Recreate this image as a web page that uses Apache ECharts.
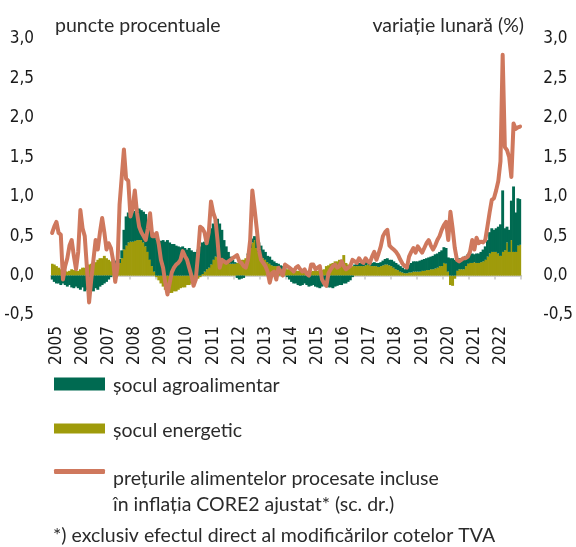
<!DOCTYPE html>
<html><head><meta charset="utf-8">
<script src="https://cdn.jsdelivr.net/npm/echarts@6/dist/echarts.min.js"></script>
<style>html,body{margin:0;padding:0;background:#fff}#c{width:576px;height:547px}</style>
</head><body><div id="c"></div>
<script>
const years = [2005,2006,2007,2008,2009,2010,2011,2012,2013,2014,2015,2016,2017,2018,2019,2020,2021,2022];
const yTicks = [-0.5, 0, 0.5, 1, 1.5, 2, 2.5, 3];

// șocul agroalimentar (pp), monthly Jan 2005 - Dec 2022
const agro = [
 -0.05,-0.08,-0.1,-0.1,-0.12,-0.1,-0.12,-0.14,-0.12,-0.15,-0.16,-0.14,
 -0.16,-0.18,-0.15,-0.2,-0.18,-0.22,-0.18,-0.2,-0.16,-0.18,-0.14,-0.12,
 -0.1,-0.08,-0.05,-0.02,0.02,0.04,0.04,0.05,0.1,0.25,0.37,0.38,
 0.36,0.37,0.38,0.4,0.4,0.38,0.39,0.41,0.4,0.4,0.43,0.45,
 0.45,0.45,0.44,0.45,0.43,0.45,0.42,0.4,0.4,0.38,0.37,0.36,
 0.37,0.35,0.33,0.35,0.32,0.3,0.3,0.33,0.37,0.4,0.38,0.4,
 0.4,0.46,0.46,0.46,0.48,0.44,0.38,0.25,0.19,0.14,0.09,0.05,
 0.02,-0.03,-0.05,-0.04,-0.03,0.0,0.02,0.05,0.05,0.05,0.1,0.12,
 0.13,0.11,0.1,0.08,0.09,0.07,0.06,0.04,0.05,0.04,0.04,0.02,
 -0.02,-0.05,-0.08,-0.1,-0.1,-0.12,-0.13,-0.12,-0.1,-0.12,-0.14,-0.13,
 -0.12,-0.14,-0.15,-0.16,-0.14,-0.12,-0.14,-0.15,-0.15,-0.16,-0.14,-0.13,
 -0.12,-0.12,-0.1,-0.1,-0.08,-0.06,-0.02,0.02,0.03,0.04,0.04,0.05,
 0.04,0.03,0.03,0.04,0.05,0.04,0.05,0.05,0.06,0.07,0.08,0.07,
 0.08,0.08,0.08,0.07,0.07,0.06,0.05,0.07,0.1,0.12,0.13,0.13,
 0.13,0.14,0.14,0.15,0.15,0.16,0.16,0.17,0.18,0.18,0.18,0.2,
 0.2,0.2,0.18,0.22,0.22,0.2,0.16,0.14,0.14,0.14,0.13,0.12,
 0.11,0.12,0.1,0.12,0.12,0.13,0.15,0.17,0.21,0.27,0.3,0.28,
 0.3,0.34,0.4,0.78,0.28,0.2,0.28,0.5,0.83,0.5,0.6,0.58
];

// șocul energetic (pp)
const energy = [
 0.15,0.14,0.12,0.1,0.08,0.08,0.06,0.05,0.06,0.08,0.07,0.06,
 0.06,0.08,0.1,0.1,0.12,0.14,0.15,0.15,0.17,0.2,0.22,0.22,
 0.25,0.22,0.2,0.18,0.18,0.15,0.15,0.16,0.22,0.33,0.38,0.42,
 0.43,0.43,0.44,0.45,0.45,0.45,0.42,0.37,0.3,0.2,0.12,0.05,
 -0.02,-0.06,-0.1,-0.14,-0.18,-0.2,-0.22,-0.22,-0.2,-0.2,-0.18,-0.16,
 -0.15,-0.15,-0.12,-0.12,-0.1,-0.08,-0.06,-0.04,-0.02,0.02,0.05,0.08,
 0.1,0.14,0.2,0.24,0.24,0.22,0.2,0.2,0.18,0.16,0.15,0.15,
 0.15,0.16,0.18,0.2,0.2,0.22,0.26,0.35,0.42,0.45,0.35,0.3,
 0.25,0.22,0.2,0.17,0.15,0.13,0.12,0.12,0.1,0.09,0.08,0.08,
 0.08,0.08,0.07,0.07,0.06,0.06,0.06,0.05,0.06,0.06,0.05,0.05,
 0.06,0.06,0.06,0.07,0.07,0.08,0.12,0.13,0.15,0.16,0.18,0.18,
 0.2,0.2,0.26,0.16,0.14,0.12,0.12,0.12,0.12,0.12,0.12,0.12,
 0.13,0.14,0.13,0.12,0.12,0.12,0.11,0.12,0.13,0.14,0.14,0.13,
 0.12,0.1,0.08,0.07,0.05,0.04,0.03,0.03,0.04,0.04,0.05,0.05,
 0.05,0.05,0.06,0.06,0.07,0.07,0.08,0.08,0.09,0.1,0.12,0.12,
 0.16,0.15,0.05,-0.12,-0.13,-0.04,0.06,0.08,0.08,0.08,0.12,0.15,
 0.16,0.16,0.17,0.16,0.16,0.17,0.18,0.2,0.24,0.28,0.3,0.3,
 0.3,0.28,0.25,0.3,0.32,0.42,0.3,0.45,0.3,0.3,0.38,0.39
];

// prețurile alimentelor procesate, variație lunară (%), sc. dr.
const processed = [
 0.54,0.62,0.68,0.54,0.52,-0.05,0.12,0.22,0.38,0.45,0.25,0.08,
 0.3,0.83,0.6,0.5,0.1,-0.34,-0.05,0.2,0.45,0.33,0.55,0.73,
 0.55,0.33,0.41,0.35,0.2,-0.08,0.1,0.9,1.25,1.6,1.23,1.2,
 0.75,0.85,1.08,0.8,0.62,0.55,0.5,0.45,0.6,0.79,0.5,0.5,
 0.54,0.4,0.2,0.1,-0.09,-0.24,-0.1,0.04,0.1,0.14,0.16,0.2,
 0.31,0.25,0.2,0.1,0.0,-0.13,-0.05,0.25,0.62,0.6,0.55,0.41,
 0.55,0.94,0.8,0.72,0.45,0.1,0.2,0.18,0.16,0.18,0.2,0.22,
 0.24,0.26,0.18,0.16,0.12,0.1,0.2,0.45,1.08,0.85,0.6,0.33,
 0.2,0.16,0.12,0.05,-0.09,0.03,0.05,-0.05,0.1,0.05,0.0,0.14,
 0.12,0.1,0.08,0.05,0.1,0.12,0.08,0.05,0.08,0.02,0.0,0.14,
 0.14,0.08,0.1,0.12,-0.05,-0.1,-0.13,0.03,0.08,0.12,0.14,0.1,
 0.12,0.18,0.12,0.08,0.1,0.12,0.2,0.18,0.16,0.22,0.18,0.16,
 0.22,0.18,0.16,0.24,0.3,0.2,0.28,0.37,0.5,0.55,0.58,0.38,
 0.35,0.33,0.3,0.26,0.2,0.15,0.12,0.1,0.24,0.3,0.35,0.29,
 0.37,0.33,0.29,0.35,0.41,0.45,0.38,0.33,0.38,0.45,0.5,0.58,
 0.64,0.68,0.45,0.81,0.6,0.35,0.2,0.18,0.2,0.22,0.22,0.24,
 0.3,0.45,0.33,0.48,0.41,0.43,0.42,0.45,0.62,0.8,0.96,0.98,
 1.08,1.2,1.45,2.8,1.63,1.59,1.5,1.25,1.93,1.86,1.88,1.89
];

const months = [];
years.forEach(y => { for (let m = 1; m <= 12; m++) months.push(y + '-' + (m < 10 ? '0' : '') + m); });

const GREEN = '#006a51', OLIVE = '#9f9b0b', ORANGE = '#cf785d';
const condensed = '"Liberation Sans Narrow","DejaVu Sans Condensed","Roboto Condensed",sans-serif';
const textFont = 'Lato,"Open Sans",sans-serif';
const TXT = '#2b2b2b';
const FS = 19.5;
const fmt = v => v.toFixed(1).replace('.', ',');

const NAME_AGRO = 'șocul agroalimentar';
const NAME_EN = 'șocul energetic';
const NAME_LINE = 'prețurile alimentelor procesate incluse\nîn inflația CORE2 ajustat* (sc. dr.)';

const chart = echarts.init(document.getElementById('c'), null, {renderer: 'canvas'});

const yAxisBase = {
  type: 'value', min: yTicks[0], max: yTicks[yTicks.length - 1], interval: 0.5,
  axisLine: {show: false}, axisTick: {show: false}, splitLine: {show: false},
};

function richLegend(name, spacer) {
  return {
    orient: 'vertical', padding: 0, itemWidth: 51, selectedMode: false,
    formatter: n => '{sp| }\n' + n.split('\n').map(s => '{t|' + s + '}').join('\n'),
    textStyle: {
      rich: {
        sp: {fontSize: 1, lineHeight: spacer},
        t: {fontFamily: textFont, fontSize: FS, color: TXT, lineHeight: 26, padding: [0, 0, 0, 3]}
      }
    }
  };
}

chart.setOption({
  animation: false,
  backgroundColor: '#fff',
  title: [
    {text: 'puncte procentuale', left: 55, top: 16, padding: 0,
     textStyle: {fontFamily: textFont, fontSize: FS, fontWeight: 'normal', color: TXT}},
    {text: 'variație lunară (%)', right: 52, top: 16, padding: 0,
     textStyle: {fontFamily: textFont, fontSize: FS, fontWeight: 'normal', color: TXT}},
    {text: '*) exclusiv efectul direct al modificărilor cotelor TVA', left: 53, top: 526, padding: 0,
     textStyle: {fontFamily: textFont, fontSize: FS, fontWeight: 'normal', color: TXT}}
  ],
  legend: [
    Object.assign(richLegend(NAME_AGRO, 4), {data: [{name: NAME_AGRO, icon: 'rect'}], left: 54, top: 370.5, itemHeight: 13}),
    Object.assign(richLegend(NAME_EN, 5), {data: [{name: NAME_EN, icon: 'rect'}], left: 54, top: 415, itemHeight: 10}),
    Object.assign(richLegend(NAME_LINE, 40), {data: [{name: NAME_LINE, icon: 'roundRect'}], left: 54, top: 445, itemHeight: 5})
  ],
  grid: {left: 51, right: 51, top: 39, height: 276, containLabel: false},
  xAxis: [
    {type: 'category', data: months, boundaryGap: true, position: 'bottom',
     axisLine: {show: true, onZero: true, lineStyle: {color: '#cfcfcf', width: 2}},
     axisTick: {show: true, interval: (i) => i % 12 === 0, length: 4, lineStyle: {color: '#c8c8c8', width: 1.5}},
     axisLabel: {show: false}, splitLine: {show: false}},
    {type: 'category', data: months, boundaryGap: true, position: 'bottom',
     axisLine: {show: false, onZero: false}, axisTick: {show: false}, splitLine: {show: false},
     axisLabel: {show: true, interval: (i) => i % 12 === 2, rotate: 90, margin: 11,
       formatter: v => v.slice(0, 4), fontFamily: condensed, fontSize: 17, color: '#1a1a1a'}}
  ],
  yAxis: [
    Object.assign({}, yAxisBase, {position: 'left',
      axisLabel: {formatter: fmt, margin: 17, fontFamily: condensed, fontSize: 17, color: '#1a1a1a'}}),
    Object.assign({}, yAxisBase, {position: 'right',
      axisLabel: {formatter: fmt, margin: 22, fontFamily: condensed, fontSize: 17, color: '#1a1a1a'}})
  ],
  series: [
    {name: NAME_EN, type: 'bar', stack: 'shock', data: energy, xAxisIndex: 0, yAxisIndex: 0,
     barWidth: 2.9, itemStyle: {color: OLIVE}},
    {name: NAME_AGRO, type: 'bar', stack: 'shock', data: agro, xAxisIndex: 0, yAxisIndex: 0,
     barWidth: 2.9, itemStyle: {color: GREEN}},
    {name: NAME_LINE, type: 'line',
     data: processed, xAxisIndex: 0, yAxisIndex: 1, symbol: 'none', z: 5,
     itemStyle: {color: ORANGE},
     lineStyle: {color: ORANGE, width: 4, cap: 'round', join: 'round'}}
  ]
});
</script></body></html>
